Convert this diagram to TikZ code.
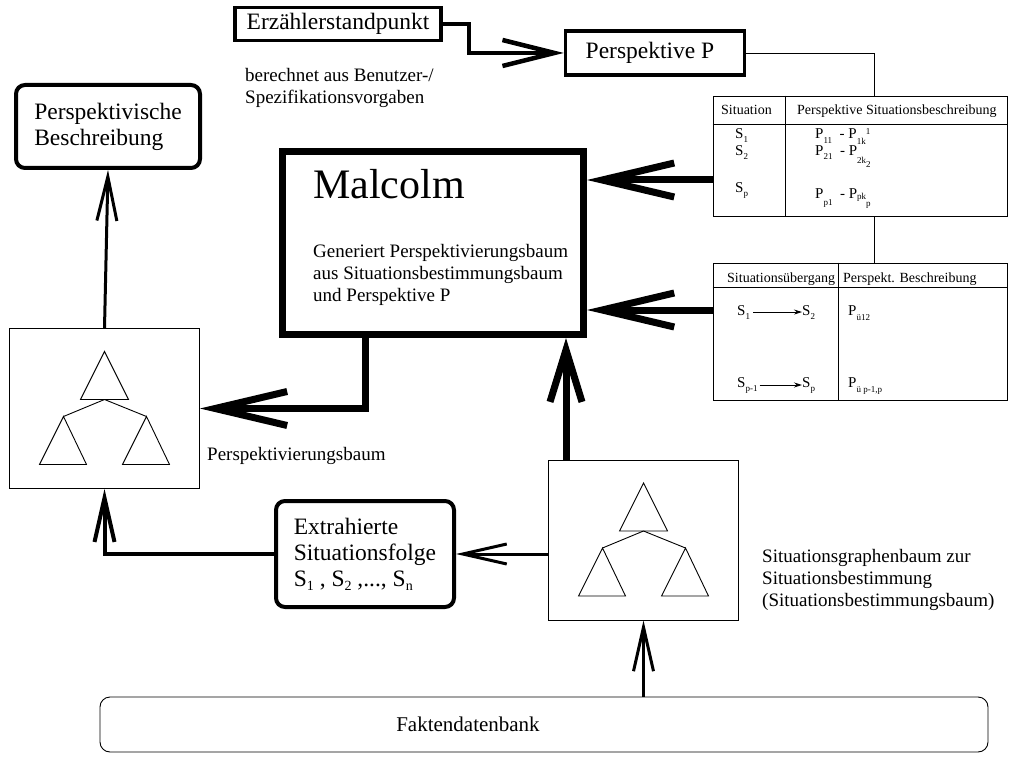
\documentclass[tikz,border=0pt]{standalone}
\usepackage{fontspec}
\setmainfont{Liberation Serif}
\usetikzlibrary{arrows.meta,positioning,calc}

% small lowered/raised index text
\newcommand{\idx}[2]{\raisebox{#1}{\fontsize{9}{9}\selectfont #2}}
\newcommand{\bigidx}[1]{\raisebox{-4pt}{\fontsize{14}{14}\selectfont #1}}
% small tree of three triangles, centred in a node
\newcommand{\minitree}[1]{%
  \begin{scope}[shift={(#1.center)}, line width=0.9pt]
    \draw (0,-57) -- (-24,-9) -- (24,-9) -- cycle;
    \draw (-41,8) -- (0,-9) -- (42,8);
    \draw (-41,8) -- (-65,56) -- (-18,56) -- cycle;
    \draw (42,8) -- (18,56) -- (65,56) -- cycle;
  \end{scope}}

\begin{document}
\begin{tikzpicture}[x=1pt, y=-1pt,
  box/.style={draw, line width=3.5pt, inner sep=0pt,
              font=\fontsize{23.5}{26}\selectfont},
  rbox/.style={draw, line width=4pt, rounded corners=9pt, align=left,
               inner sep=0pt, font=\fontsize{23.5}{26}\selectfont},
  treebox/.style={draw, line width=0.9pt, inner sep=0pt,
                  minimum width=190pt, minimum height=160pt},
  tab/.style={draw, line width=0.9pt, inner sep=0pt, minimum width=294pt},
  note/.style={font=\fontsize{19}{22}\selectfont, align=left, inner sep=0pt},
  cell/.style={font=\fontsize{14}{16}\selectfont, inner sep=0pt, anchor=base west},
  entry/.style={font=\fontsize{15}{17}\selectfont, inner sep=0pt, anchor=base west},
  thin/.style={line width=0.9pt},
  bigarr/.style={line width=7pt, -{Straight Barb[length=72pt, width=34pt]}},
  midarr/.style={line width=4.5pt, -{Straight Barb[length=52pt, width=26pt]}},
  arr/.style={line width=3pt, -{Straight Barb[length=44pt, width=20pt]}}
]
\useasboundingbox (0,0) rectangle (1010,757);

% top row
\node[box, minimum width=206pt, minimum height=33pt] (erz) at (338,24) {Erzählerstandpunkt};
\node[box, minimum width=179pt, minimum height=44pt] (persp) at (655,53) {Perspektive P\hspace*{10pt}};
\node[note, anchor=north west] (calc) at (245,68) {berechnet aus Benutzer-/\\Spezifikationsvorgaben};

% Malcolm
\node[draw, line width=7pt, inner sep=0pt, minimum width=301pt, minimum height=183pt] (malc) at (433,243) {};
\node[font=\fontsize{42}{44}\selectfont, inner sep=0pt, anchor=base west] (mname) at (313,198) {Malcolm};
\node[note, anchor=north west] (mtext) at (313,244) {Generiert Perspektivierungsbaum\\aus Situationsbestimmungsbaum\\und Perspektive P};

% left column
\node[rbox, minimum width=184pt, minimum height=83pt] (pbes) at (108,126.5) {Perspektivische\\Beschreibung};
\node[treebox] (treeL) at (104.5,408.5) {};
\minitree{treeL}
\node[note, anchor=base west] (treeLlab) at (207,460) {Perspektivierungsbaum};

% bottom
\node[rbox, minimum width=178pt, minimum height=106pt] (extr) at (365,554) {Extrahierte\\Situationsfolge\\S\bigidx{1} , S\bigidx{2} ,..., S\bigidx{n}};
\node[treebox] (treeR) at (643.5,540) {};
\minitree{treeR}
\node[note, anchor=north west] (treeRlab) at (762,549) {Situationsgraphenbaum zur\\Situationsbestimmung\\(Situationsbestimmungsbaum)};
\node[draw, line width=0.9pt, rounded corners=10pt, minimum width=888pt, minimum height=55pt,
      font=\fontsize{21}{24}\selectfont] (fakt) at (544,724.5) {Faktendatenbank\hspace*{152pt}};

% table of situations
\node[tab, minimum height=120pt] (tabA) at (860,156) {};
\draw[thin] (tabA.west |- 0,124) -- (tabA.east |- 0,124);
\draw[thin] (tabA.north -| 785,0) -- (tabA.south -| 785,0);
\node[cell] (hA1) at (721,115) {Situation};
\node[cell] (hA2) at (797,115) {Perspektive Situationsbeschreibung};
\node[entry] (sA1) at (735,139) {S\idx{-4pt}{1}};
\node[entry] (sA2) at (735,156) {S\idx{-4pt}{2}};
\node[entry] (sAp) at (735,193) {S\idx{-4pt}{p}};
\node[entry] (pA1) at (815,139) {P\idx{-5pt}{11} \ - P\idx{-6pt}{1k}\idx{4pt}{1}};
\node[entry] (pA2) at (815,156) {P\idx{-4pt}{21} \ - P\idx{-8pt}{2k}\idx{-12pt}{2}};
\node[entry] (pAp) at (815,199) {P\idx{-7pt}{p1} \ - P\idx{-1pt}{pk}\idx{-8pt}{p}};

% table of transitions
\node[tab, minimum height=137pt] (tabB) at (860,331.5) {};
\draw[thin] (tabB.west |- 0,287) -- (tabB.east |- 0,287);
\draw[thin] (tabB.north -| 838,0) -- (tabB.south -| 838,0);
\node[cell] (hB1) at (727,282) {Situationsübergang};
\node[cell] (hB2) at (843,282) {Perspekt. Beschreibung};
\node[entry] (sB1) at (737,315) {S\idx{-4pt}{1}};
\node[entry] (sB2) at (802,315) {S\idx{-4pt}{2}};
\node[entry] (sBq) at (737,387) {S\idx{-4pt}{p-1}};
\node[entry] (sBp) at (802,387) {S\idx{-4pt}{p}};
\node[entry] (pB1) at (848,315) {P\idx{-5pt}{ü12}};
\node[entry] (pB2) at (848,387) {P\idx{-5pt}{ü p-1,p}};
\draw[thin, -{Stealth[length=8pt, width=5pt]}] (sB1.east) ++(3,0) -- (sB1.east -| sB2.west);
\draw[thin, -{Stealth[length=8pt, width=5pt]}] (sBq.east) ++(2,0) -- (sBq.east -| sBp.west);

% connectors
\draw[midarr] (erz.east) -- ++(26,0) |- (persp.west);
\draw[thin] (persp.east) -| ([xshift=14pt]tabA.north);
\draw[thin] ([xshift=14pt]tabA.south) -- ([xshift=14pt]tabB.north);
\draw[bigarr] (tabA.west |- 0,180) -- (malc.east |- 0,180);
\draw[bigarr] (tabB.west |- 0,310) -- (malc.east |- 0,310);
\draw[bigarr] (malc.south -| 365,0) |- (treeL.east);
\draw[bigarr, -{Straight Barb[length=52pt, width=32pt]}] (treeR.north -| 566,0) -- (malc.south -| 566,0);
\draw[arr] (fakt.north -| treeR.south) -- (treeR.south);
\draw[arr] (treeR.west |- extr.east) -- (extr.east);
\draw[arr, line width=4pt] (extr.west) -| (treeL.south);
\draw[arr] (treeL.north) -- (pbes.south);
\end{tikzpicture}
\end{document}
